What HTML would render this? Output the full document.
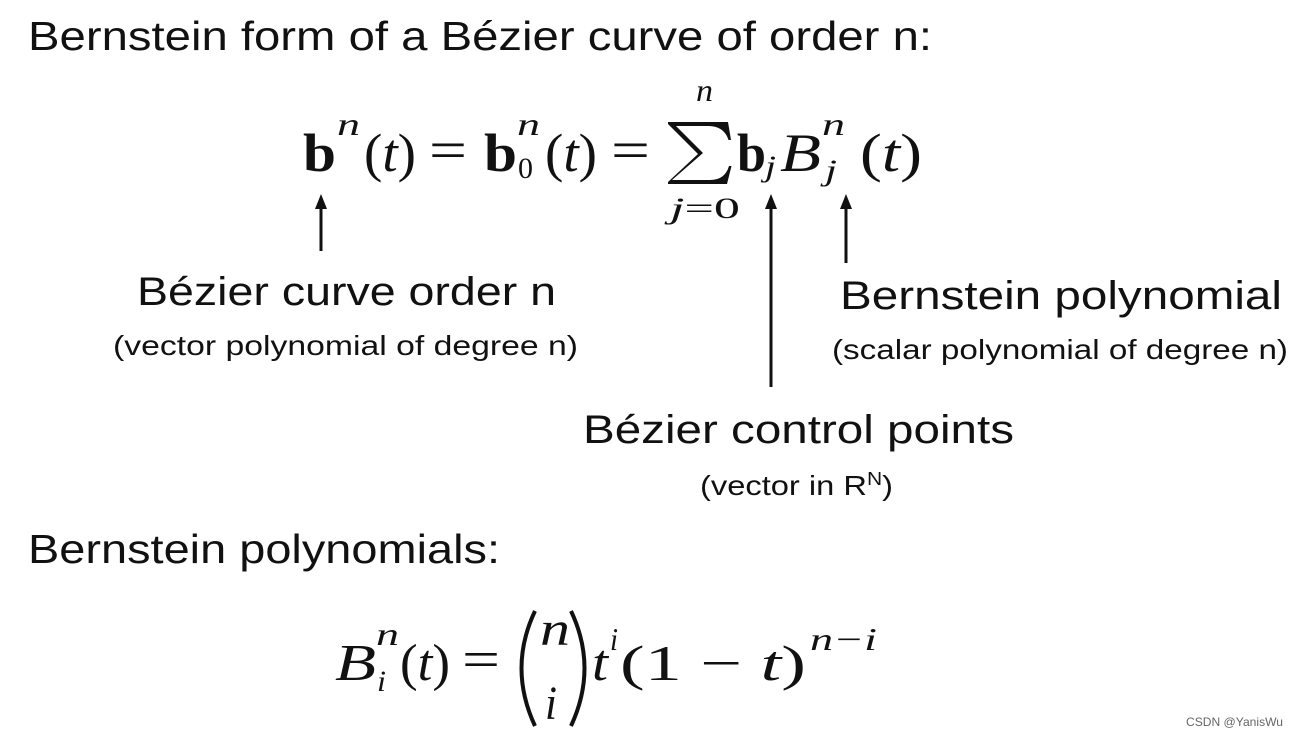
<!DOCTYPE html>
<html><head><meta charset="utf-8"><style>
html,body{margin:0;padding:0;background:#fff}
svg{display:block}
.s{font-family:"Liberation Sans","DejaVu Sans",sans-serif;fill:#111}
.m{font-family:"Liberation Serif","DejaVu Serif",serif;fill:#111}
.i{font-style:italic}
.b{font-weight:bold}
</style></head><body>
<svg width="1298" height="737" viewBox="0 0 1298 737" xmlns="http://www.w3.org/2000/svg">
<rect width="1298" height="737" fill="#fff"/>
<text class="s" x="28" y="50" font-size="41" textLength="904" lengthAdjust="spacingAndGlyphs">Bernstein form of a Bézier curve of order n:</text>

<g class="m">
<text class="b" x="303" y="171" font-size="54" textLength="33" lengthAdjust="spacingAndGlyphs">b</text>
<text class="i" x="337" y="135" font-size="32" textLength="23" lengthAdjust="spacingAndGlyphs">n</text>
<text x="364" y="171" font-size="54" textLength="52" lengthAdjust="spacingAndGlyphs">(<tspan class="i">t</tspan>)</text>
<text x="429" y="168" font-size="54" textLength="38" lengthAdjust="spacingAndGlyphs">=</text>
<text class="b" x="484" y="171" font-size="54" textLength="33" lengthAdjust="spacingAndGlyphs">b</text>
<text class="i" x="517" y="135" font-size="32" textLength="23" lengthAdjust="spacingAndGlyphs">n</text>
<text x="518" y="178" font-size="30" textLength="15" lengthAdjust="spacingAndGlyphs">0</text>
<text x="545" y="171" font-size="54" textLength="52" lengthAdjust="spacingAndGlyphs">(<tspan class="i">t</tspan>)</text>
<text x="611" y="168" font-size="54" textLength="39" lengthAdjust="spacingAndGlyphs">=</text>
<path d="M668,122 L728,122 L731,140 L728.5,140 Q724,126 708,126 L676,126 L703,153 L672,180 L710,180 Q725,180 729,166 L731.5,166 L727,184 L668,184 L668,182 L698,154 L668,124 Z" fill="#111"/>
<text class="i" x="696" y="101" font-size="32" textLength="17" lengthAdjust="spacingAndGlyphs">n</text>
<text x="670" y="218" font-size="30" textLength="70" lengthAdjust="spacingAndGlyphs"><tspan class="i">j</tspan>=0</text>
<text class="b" x="737" y="171" font-size="54" textLength="29" lengthAdjust="spacingAndGlyphs">b</text>
<text class="i" x="765" y="176" font-size="30" textLength="11" lengthAdjust="spacingAndGlyphs">j</text>
<text class="i" x="780" y="171" font-size="54" textLength="41" lengthAdjust="spacingAndGlyphs">B</text>
<text class="i" x="822" y="135" font-size="32" textLength="23" lengthAdjust="spacingAndGlyphs">n</text>
<text class="i" x="825" y="180" font-size="30" textLength="12" lengthAdjust="spacingAndGlyphs">j</text>
<text x="860" y="171" font-size="54" textLength="62" lengthAdjust="spacingAndGlyphs">(<tspan class="i">t</tspan>)</text>
</g>

<g stroke="#111" stroke-width="3" fill="#111">
<line x1="321" y1="206" x2="321" y2="251"/>
<polygon points="321,194 315,209 327,209" stroke="none"/>
<line x1="771" y1="206" x2="771" y2="387"/>
<polygon points="771,194 765,209 777,209" stroke="none"/>
<line x1="846" y1="206" x2="846" y2="263"/>
<polygon points="846,194 840,209 852,209" stroke="none"/>
</g>

<text class="s" x="137" y="305" font-size="40" textLength="419" lengthAdjust="spacingAndGlyphs">Bézier curve order n</text>
<text class="s" x="113" y="355" font-size="28" textLength="465" lengthAdjust="spacingAndGlyphs">(vector polynomial of degree n)</text>
<text class="s" x="840" y="309" font-size="40" textLength="442" lengthAdjust="spacingAndGlyphs">Bernstein polynomial</text>
<text class="s" x="832" y="359" font-size="28" textLength="456" lengthAdjust="spacingAndGlyphs">(scalar polynomial of degree n)</text>
<text class="s" x="583" y="443" font-size="40" textLength="431" lengthAdjust="spacingAndGlyphs">Bézier control points</text>
<text class="s" x="700" y="495" font-size="28" textLength="193" lengthAdjust="spacingAndGlyphs">(vector in R<tspan font-size="18" dy="-10">N</tspan><tspan dy="10">)</tspan></text>

<text class="s" x="28" y="563" font-size="41" textLength="472" lengthAdjust="spacingAndGlyphs">Bernstein polynomials:</text>

<g class="m">
<text class="i" x="335" y="680" font-size="52" textLength="41" lengthAdjust="spacingAndGlyphs">B</text>
<text class="i" x="376" y="645" font-size="32" textLength="23" lengthAdjust="spacingAndGlyphs">n</text>
<text class="i" x="377" y="691" font-size="30" textLength="9" lengthAdjust="spacingAndGlyphs">i</text>
<text x="400" y="680" font-size="52" textLength="50" lengthAdjust="spacingAndGlyphs">(<tspan class="i">t</tspan>)</text>
<text x="462" y="677" font-size="52" textLength="38" lengthAdjust="spacingAndGlyphs">=</text>
<path d="M535,611 Q508,668 535,726" stroke="#111" stroke-width="4" fill="none"/>
<path d="M571,611 Q598,668 571,726" stroke="#111" stroke-width="4" fill="none"/>
<text class="i" x="540" y="645" font-size="48" textLength="30" lengthAdjust="spacingAndGlyphs">n</text>
<text class="i" x="545" y="719" font-size="48" textLength="12" lengthAdjust="spacingAndGlyphs">i</text>
<text class="i" x="592" y="680" font-size="52" textLength="16" lengthAdjust="spacingAndGlyphs">t</text>
<text class="i" x="610" y="650" font-size="32" textLength="8" lengthAdjust="spacingAndGlyphs">i</text>
<text x="620" y="680" font-size="50" textLength="186" lengthAdjust="spacingAndGlyphs">(1 − <tspan class="i">t</tspan>)</text>
<text class="i" x="810" y="650" font-size="32" textLength="67" lengthAdjust="spacingAndGlyphs">n−i</text>
</g>

<text x="1186" y="726" font-family="Liberation Sans,sans-serif" font-size="12" fill="#666" textLength="97" lengthAdjust="spacingAndGlyphs">CSDN @YanisWu</text>
</svg>
</body></html>
